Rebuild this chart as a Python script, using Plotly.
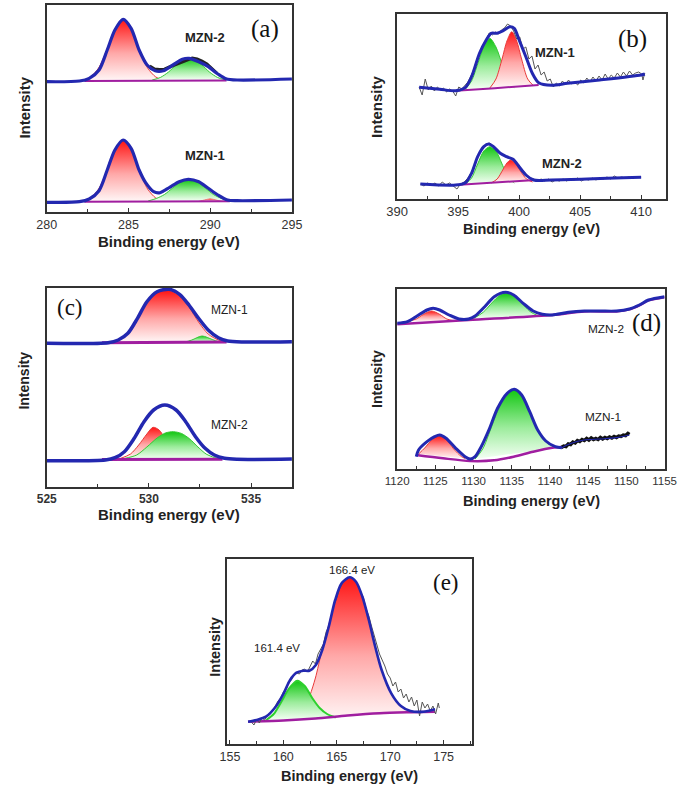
import plotly.graph_objects as go

W, H = 692, 790

# ---------------- Panel (a): C 1s ----------------
a_range_x = [280, 295]
a_range_y = [0, 207]
# MZN-2 (upper)
a2_env_E = [280, 282.0, 282.6, 283.2, 283.7, 284.17, 284.67, 285.16, 285.65, 286.14, 286.63, 287.13, 287.72, 288.3, 288.7, 289.3, 289.88, 290.47, 290.96, 291.65, 295]
a2_env_I = [130.3, 131, 133.7, 142, 162, 182, 192.7, 183.7, 162, 147, 141.3, 141.3, 147, 152.7, 153.7, 150.3, 145.3, 138, 133.3, 132, 133]
a2_base_E = [282.3, 291.0]
a2_base_I = [131, 131.5]
a2_c1_E = [282.17, 282.67, 283.17, 283.67, 284.17, 284.67, 285.17, 285.67, 286.17, 286.67, 287.17]
a2_c1_I = [131.5, 135, 144, 162, 183, 192.5, 183, 162, 144, 135, 131.5]
a2_c2_E = [286.45, 286.95, 287.45, 287.95, 288.7, 289.45, 289.95, 290.45, 290.95]
a2_c2_I = [132, 134.5, 140, 147.5, 153.7, 147.5, 140, 134.5, 132]
a2_raw_E = [286.3, 286.6, 286.9, 287.2, 287.5, 288.9, 289.2, 289.5, 289.8, 290.1, 290.4]
a2_raw_I = [146, 143, 142.5, 142.8, 145, 154, 153, 151, 148, 143, 139]
# MZN-1 (lower)
a1_env_E = [280, 282.0, 282.6, 283.2, 283.7, 284.17, 284.67, 285.16, 285.65, 286.05, 286.54, 286.93, 287.52, 288.1, 288.66, 289.3, 289.88, 290.47, 291.06, 291.65, 295]
a1_env_I = [9.7, 10.3, 13, 21.3, 42, 62, 72, 63.7, 42, 29.3, 20.3, 19.3, 24.7, 30.3, 32.7, 30.3, 23.7, 17, 12, 11.3, 12]
a1_base_E = [282.3, 291.2]
a1_base_I = [10.2, 10.8]
a1_c1_E = [282.17, 282.67, 283.17, 283.67, 284.17, 284.67, 285.17, 285.67, 286.17, 286.67, 287.17]
a1_c1_I = [10.8, 14, 23, 41, 62, 71.5, 62, 41, 23, 14, 10.8]
a1_c2_E = [286.2, 286.7, 287.2, 287.7, 288.2, 288.7, 289.2, 289.7, 290.2, 290.7, 291.2]
a1_c2_I = [11, 13.5, 17.5, 24, 30, 32.5, 30, 24, 17.5, 13.5, 11]
a1_c3_E = [289.3, 289.65, 290.0, 290.35, 290.7]
a1_c3_I = [10.6, 12, 13.2, 12, 10.6]

# ---------------- Panel (b): N 1s ----------------
b_range_x = [390, 412]
b_range_y = [0, 185]
b1_env_E = [391.8, 393.5, 394.8, 395.6, 396.1, 396.75, 397.3, 397.7, 398.2, 398.7, 399.24, 399.6, 400.0, 400.55, 401.08, 401.6, 402.65, 403.96, 406.6, 410.0, 410.3]
b1_env_I = [111.7, 109.7, 108.3, 111.7, 122.3, 145.7, 159, 165.7, 165.7, 168.3, 172.3, 170.7, 159, 142.3, 125.7, 116.3, 113.7, 115.7, 119, 124, 125]
b1_base_E = [394.8, 398.0, 401.6]
b1_base_I = [108.3, 110.8, 114]
b1_cg_E = [395.6, 396.1, 396.6, 397.1, 397.6, 398.1, 398.6, 399.1, 399.6]
b1_cg_I = [110, 118, 135, 152, 160.7, 152, 135, 118, 111.5]
b1_cr_E = [397.6, 398.1, 398.6, 399.0, 399.4, 399.8, 400.2, 400.7, 401.2]
b1_cr_I = [111, 120, 140, 158, 167.3, 158, 140, 120, 113]
b1_raw_E = [391.8, 392.05, 392.3, 392.55, 392.8, 393.05, 393.3, 393.55, 393.8, 394.05, 394.3, 394.55, 394.8, 395.05, 395.3, 395.55, 395.8, 396.05, 396.3, 396.55, 396.8, 397.05, 397.3, 397.55, 397.8, 398.05, 398.3, 398.55, 398.8, 399.05, 399.3, 399.55, 399.8, 400.05, 400.3, 400.55, 400.8, 401.05, 401.3, 401.55, 401.8, 402.05, 402.3, 402.55, 402.8, 403.05, 403.3, 403.55, 403.8, 404.05, 404.3, 404.55, 404.8, 405.05, 405.3, 405.55, 405.8, 406.05, 406.3, 406.55, 406.8, 407.05, 407.3, 407.55, 407.8, 408.05, 408.3, 408.55, 408.8, 409.05, 409.3, 409.55, 409.8, 410.05, 410.15, 410.3]
b1_raw_I = [112, 104, 120, 109, 113, 108, 112, 109, 111, 107, 110, 108, 103, 112, 110, 113, 117, 123, 130, 140, 148, 154, 160, 166, 164, 167, 165, 169, 171, 175, 173, 168, 160, 162, 150, 152, 140, 143, 130, 134, 124, 127, 118, 120, 112, 116, 113, 118, 114, 119, 115, 117, 114, 119, 116, 121, 117, 122, 118, 123, 119, 125, 120, 124, 121, 126, 122, 127, 123, 128, 124, 126, 127, 125, 119, 126]
b2_env_E = [391.9, 394.8, 395.6, 396.1, 396.6, 397.1, 397.5, 397.9, 398.45, 398.97, 399.5, 400.0, 400.55, 401.2, 402.65, 410.0]
b2_env_I = [15, 14, 16.3, 25.7, 42.3, 52.3, 55, 52.3, 45.7, 42.3, 39.7, 32.3, 24, 19, 19, 21.7]
b2_base_E = [394.8, 398.0, 401.3]
b2_base_I = [14, 16.5, 19]
b2_cg_E = [395.6, 396.1, 396.6, 397.1, 397.6, 398.1, 398.6, 399.1, 399.6]
b2_cg_I = [15, 21, 35, 48, 52.3, 48, 35, 21, 16]
b2_cr_E = [397.7, 398.2, 398.7, 399.0, 399.3, 399.7, 400.1, 400.6, 401.1]
b2_cr_I = [16, 20, 30, 36, 39, 35.5, 28, 20, 17]
b2_raw_E = [391.9, 392.2, 392.5, 392.8, 393.1, 393.4, 393.7, 394.0, 394.3, 394.6, 394.9, 395.2, 395.5, 395.8, 396.1, 396.4, 396.7, 397.0, 397.3, 397.6, 397.9, 398.2, 398.5, 398.8, 399.1, 399.4, 399.7, 400.0, 400.3, 400.6, 400.9, 401.2, 401.5, 401.8, 402.1, 402.4, 402.7, 403.0, 403.3, 403.6, 403.9, 404.2, 404.5, 404.8, 405.1, 405.4, 405.7, 406.0, 406.3, 406.6, 406.9, 407.2, 407.5, 407.8, 408.1, 408.4, 408.7, 409.0, 409.3, 409.6, 410.0]
b2_raw_I = [15, 13, 16, 14, 16, 13, 17, 14, 16, 13, 10, 15, 17, 21, 27, 35, 45, 51, 55, 56, 52, 49, 45, 43, 41, 40, 36, 33, 28, 24, 21, 20, 18, 20, 18, 20, 17, 19, 18, 20, 18, 20, 19, 21, 18, 20, 19, 21, 19, 21, 20, 22, 20, 23, 21, 22, 21, 22, 21, 22, 22]

# ---------------- Panel (c): O 1s ----------------
c_range_x = [525, 537]
c_range_y = [0, 199]
c1_env_E = [525, 528.0, 528.5, 528.97, 529.44, 529.9, 530.4, 531.0, 531.5, 531.96, 532.43, 532.9, 533.4, 533.85, 534.6, 537]
c1_env_I = [143.7, 144.3, 147, 153.7, 168.7, 185.3, 195.3, 197.7, 192.7, 182, 168.7, 157, 149.3, 146, 145, 145.3]
c1_base_E = [527.7, 533.8]
c1_base_I = [144.3, 145]
c1_cr_E = [528.3, 528.97, 529.44, 529.9, 530.4, 531.0, 531.5, 531.96, 532.43, 532.9, 533.4, 533.8]
c1_cr_I = [145, 153, 168, 184.5, 194.5, 196.5, 191, 180, 165, 153, 147, 145]
c1_cg_E = [531.7, 532.1, 532.6, 533.1, 533.5]
c1_cg_I = [144.5, 147, 151, 147.5, 144.5]
c2_env_E = [525, 527.87, 528.34, 528.8, 529.28, 529.76, 530.23, 530.78, 531.33, 531.8, 532.28, 532.75, 533.2, 533.7, 534.3, 537]
c2_env_I = [26.3, 27, 29.3, 35.3, 48.7, 65.3, 77, 82, 77, 65.3, 50.3, 38.7, 32, 28.7, 27.7, 28]
c2_base_E = [527.7, 533.6]
c2_base_I = [27.5, 27.7]
c2_cr_E = [528.6, 529.1, 529.5, 529.9, 530.2, 530.5, 530.8, 531.1, 531.5, 531.9]
c2_cr_I = [28.5, 33, 42, 53, 59.7, 57, 48, 38, 30, 28]
c2_cg_E = [528.8, 529.4, 529.9, 530.4, 530.8, 531.2, 531.6, 532.0, 532.4, 532.8, 533.2, 533.5]
c2_cg_I = [28.5, 32, 40, 49, 54, 55.3, 53.5, 48, 40, 33, 29.5, 28]

# ---------------- Panel (d) ----------------
d_range_x = [1120, 1155]
d_range_y = [0, 180]
d2_env_E = [1120, 1121.35, 1122.6, 1123.9, 1124.7, 1125.56, 1126.8, 1128.1, 1129.35, 1130.2, 1131.46, 1132.7, 1134.2, 1135.25, 1136.5, 1137.8, 1139.0, 1140.3, 1142.4, 1144.5, 1146.6, 1148.7, 1150.4, 1151.7, 1152.9, 1155]
d2_env_I = [145.7, 147.3, 153, 159, 160.7, 159, 154, 150, 150, 153, 162.3, 172.3, 176.7, 174, 165.7, 158, 154.7, 154, 156.7, 158, 158, 158, 160, 164, 169, 172.3]
d2_base_E = [1120, 1129.35, 1140.3, 1144.5, 1148.7, 1150.4, 1151.7, 1152.9, 1155]
d2_base_I = [144.7, 149, 154, 157.6, 157.6, 159.6, 163.6, 168.6, 171.8]
d2_cr_E = [1121.3, 1122.5, 1123.4, 1124.5, 1125.6, 1126.5, 1127.6]
d2_cr_I = [147.5, 150, 154.5, 158, 154.5, 150, 148]
d2_cg_E = [1130, 1131.3, 1132.5, 1133.4, 1134.3, 1135.3, 1136.3, 1137.4, 1138.6]
d2_cg_I = [150.5, 157, 167, 173.5, 175.7, 173, 166, 157.5, 152.5]
d1_env_E = [1122.5, 1122.8, 1123.9, 1124.9, 1125.56, 1126.4, 1127.67, 1128.9, 1129.56, 1130.2, 1131.0, 1132.1, 1133.14, 1134.4, 1135.33, 1136.3, 1137.35, 1138.4, 1139.46, 1140.7, 1141.57, 1142.8, 1144.5, 1146.6, 1148.7, 1150.4]
d1_env_I = [12.3, 19, 27.3, 32.3, 34, 30.7, 20.7, 12.3, 10, 12.3, 22.3, 40.7, 60.7, 75.7, 79.7, 74, 57.3, 39, 28, 22.3, 21.3, 25.7, 29, 30, 31.3, 34]
d1_base_E = [1122.5, 1126, 1129.56, 1132.7, 1135.25, 1137.8, 1140.3, 1141.6]
d1_base_I = [14, 10.7, 8, 8.7, 12.3, 17.3, 21.3, 22]
d1_cr_E = [1122.8, 1123.6, 1124.6, 1125.6, 1126.5, 1127.4, 1128.4, 1128.9]
d1_cr_I = [15, 21, 29.5, 33.3, 29, 20, 12.5, 10.5]
d1_cg_E = [1130.2, 1131.2, 1132.2, 1133.2, 1134.3, 1135.3, 1136.3, 1137.4, 1138.4, 1139.5, 1140.5, 1141.2]
d1_cg_I = [10, 20, 39, 59, 75, 79.5, 74, 57, 39, 27, 22.5, 21.8]
d1_raw_E = [1141.5, 1141.8, 1142.1, 1142.4, 1142.7, 1143.0, 1143.3, 1143.6, 1143.9, 1144.2, 1144.5, 1144.8, 1145.1, 1145.4, 1145.7, 1146.0, 1146.3, 1146.6, 1146.9, 1147.2, 1147.5, 1147.8, 1148.1, 1148.4, 1148.7, 1149.0, 1149.3, 1149.6, 1149.9, 1150.2, 1150.4]
d1_raw_I = [21.5, 23, 22.5, 25, 24.5, 27, 26, 28.5, 27.5, 29.5, 28.5, 30.5, 29, 31, 29.5, 30.5, 29.5, 31.5, 30, 31.5, 30.5, 32, 31, 32.5, 31.5, 33, 32.5, 34, 33.5, 35.5, 34.5]

# ---------------- Panel (e): S 2p ----------------
e_range_x = [154.75, 177.7]
e_range_y = [0, 185]
e_env_E = [156.7, 157.47, 158.37, 159.28, 160.03, 160.63, 161.23, 161.84, 162.44, 163.04, 163.64, 164.25, 164.85, 165.45, 166.2, 166.8, 167.4, 168.0, 168.6, 169.2, 170.1, 171.0, 171.9, 173.1, 174.2]
e_env_I = [22.3, 24, 27.3, 37.3, 50.7, 64, 71.3, 73.3, 73.3, 79, 94, 117.3, 144, 160.7, 166.7, 162.3, 147.3, 124, 97.3, 74, 50.7, 38, 33, 32.3, 34.7]
e_base_E = [156.7, 160, 163, 166, 169, 172, 174.2]
e_base_I = [22.3, 23.5, 25.5, 28.5, 30.8, 31.8, 32.3]
e_cr_E = [160.4, 161.0, 161.6, 162.1, 162.5, 163.0, 163.6, 164.2, 164.85, 165.45, 166.2, 166.8, 167.4, 168.0, 168.6, 169.2, 170.1, 171.0, 171.9, 172.8]
e_cr_I = [24, 26, 31, 39, 49, 66, 93, 117, 143, 160, 166.5, 162, 147, 124, 97, 74, 50.5, 38, 33, 31.8]
e_cg_E = [158.4, 159.1, 159.8, 160.5, 161.3, 162.0, 162.7, 163.4, 164.1, 164.9]
e_cg_I = [24, 30, 42, 55, 63.3, 58, 46, 36, 30, 26.5]
e_raw_E = [157.0, 157.25, 157.5, 157.75, 158.0, 158.25, 158.5, 158.75, 159.0, 159.25, 159.5, 159.75, 160.0, 160.25, 160.5, 160.75, 161.0, 161.25, 161.5, 161.75, 162.0, 162.25, 162.5, 162.75, 163.0, 163.25, 163.5, 163.75, 164.0, 164.25, 164.5, 164.75, 165.0, 165.25, 165.5, 165.75, 166.0, 166.25, 166.5, 166.75, 167.0, 167.25, 167.5, 167.75, 168.0, 168.25, 168.5, 168.75, 169.0, 169.25, 169.5, 169.75, 170.0, 170.25, 170.5, 170.75, 171.0, 171.25, 171.5, 171.75, 172.0, 172.25, 172.5, 172.75, 173.0, 173.25, 173.5, 173.75, 174.0, 174.25, 174.5, 174.6]
e_raw_I = [22, 19, 25, 21, 26, 24, 29, 31, 33, 38, 43, 46, 52, 55, 61, 64, 69, 71, 70, 74, 75, 72, 78, 83, 80, 90, 95, 100, 112, 118, 128, 140, 146, 155, 160, 164, 165, 167, 166, 163, 158, 152, 146, 135, 128, 118, 108, 100, 90, 84, 78, 70, 66, 58, 62, 52, 55, 46, 50, 42, 47, 38, 44, 28, 42, 36, 40, 33, 38, 30, 41, 36]

# ---------------- styling ----------------
BLUE = "#2328b0"
PURPLE = "#a01ea0"
RED_SCALE = [[0, "#fff6f6"], [0.45, "#ffa8a8"], [1, "#ff1414"]]
GREEN_SCALE = [[0, "#f4fff4"], [0.45, "#9cec9c"], [1, "#12c612"]]

fig = go.Figure()


def ax(i):
    return ("x" if i == 1 else f"x{i}"), ("y" if i == 1 else f"y{i}")


def line(i, E, I, color, width):
    xa, ya = ax(i)
    fig.add_trace(go.Scatter(x=E, y=I, xaxis=xa, yaxis=ya, mode="lines",
                             line=dict(color=color, width=width, shape="spline", smoothing=0.8),
                             hoverinfo="skip"))


def raw(i, E, I, color, width):
    xa, ya = ax(i)
    fig.add_trace(go.Scatter(x=E, y=I, xaxis=xa, yaxis=ya, mode="lines",
                             line=dict(color=color, width=width), hoverinfo="skip"))


def comp(i, E, I, scale, edge, width=1):
    xa, ya = ax(i)
    fig.add_trace(go.Scatter(x=E, y=I, xaxis=xa, yaxis=ya, mode="lines",
                             line=dict(color=edge, width=width, shape="spline", smoothing=0.8),
                             fill="toself",
                             fillgradient=dict(type="vertical", colorscale=scale),
                             hoverinfo="skip"))


# panel a (1)
comp(1, a2_c1_E, a2_c1_I, RED_SCALE, "#e83a3a")
comp(1, a2_c2_E, a2_c2_I, GREEN_SCALE, "#35c835")
comp(1, a1_c1_E, a1_c1_I, RED_SCALE, "#e83a3a")
comp(1, a1_c2_E, a1_c2_I, GREEN_SCALE, "#35c835")
comp(1, a1_c3_E, a1_c3_I, RED_SCALE, "#f08080")
line(1, a2_base_E, a2_base_I, PURPLE, 2)
line(1, a1_base_E, a1_base_I, PURPLE, 2)
raw(1, a2_raw_E, a2_raw_I, "#222222", 3)
line(1, a2_env_E, a2_env_I, BLUE, 3.2)
line(1, a1_env_E, a1_env_I, BLUE, 3.2)

# panel b (2)
comp(2, b1_cg_E, b1_cg_I, GREEN_SCALE, "#35c835")
comp(2, b1_cr_E, b1_cr_I, RED_SCALE, "#e83a3a")
comp(2, b2_cg_E, b2_cg_I, GREEN_SCALE, "#35c835")
comp(2, b2_cr_E, b2_cr_I, RED_SCALE, "#e83a3a")
line(2, b1_base_E, b1_base_I, PURPLE, 2)
line(2, b2_base_E, b2_base_I, PURPLE, 2)
raw(2, b1_raw_E, b1_raw_I, "#555555", 1)
raw(2, b2_raw_E, b2_raw_I, "#555555", 1)
line(2, b1_env_E, b1_env_I, BLUE, 3)
line(2, b2_env_E, b2_env_I, BLUE, 3)

# panel c (3)
comp(3, c1_cr_E, c1_cr_I, RED_SCALE, "#e83a3a")
comp(3, c1_cg_E, c1_cg_I, GREEN_SCALE, "#35c835")
comp(3, c2_cr_E, c2_cr_I, RED_SCALE, "#e83a3a")
comp(3, c2_cg_E, c2_cg_I, GREEN_SCALE, "#35c835")
line(3, c1_base_E, c1_base_I, PURPLE, 3)
line(3, c2_base_E, c2_base_I, PURPLE, 3)
line(3, c1_env_E, c1_env_I, BLUE, 3.5)
line(3, c2_env_E, c2_env_I, BLUE, 3.5)

# panel d (4)
comp(4, d2_cr_E, d2_cr_I, RED_SCALE, "#e83a3a")
comp(4, d2_cg_E, d2_cg_I, GREEN_SCALE, "#35c835")
comp(4, d1_cr_E, d1_cr_I, RED_SCALE, "#e83a3a")
comp(4, d1_cg_E, d1_cg_I, GREEN_SCALE, "#35c835")
line(4, d2_base_E, d2_base_I, PURPLE, 2.5)
line(4, d1_base_E, d1_base_I, PURPLE, 2.5)
raw(4, d1_raw_E, d1_raw_I, "#111111", 3.5)
line(4, d2_env_E, d2_env_I, BLUE, 3)
line(4, d1_env_E[:21], d1_env_I[:21], BLUE, 3)
line(4, d1_env_E[20:], d1_env_I[20:], BLUE, 1.2)

# panel e (5)
comp(5, e_cr_E, e_cr_I, RED_SCALE, "#e83a3a")
comp(5, e_cg_E, e_cg_I, GREEN_SCALE, "#2ed02e", 2)
line(5, e_base_E, e_base_I, PURPLE, 2.5)
raw(5, e_raw_E, e_raw_I, "#555555", 1)
line(5, e_env_E, e_env_I, BLUE, 2.6)


# ---------------- axes ----------------
def px_x(p):
    return p / W


def px_y(p):
    return 1 - p / H


boxes = {
    1: (36, 290, 5, 212, a_range_x, a_range_y, 12.5, "normal"),
    2: (399, 677, 14, 199, b_range_x, b_range_y, 13, "normal"),
    3: (36, 290, 288, 487, c_range_x, c_range_y, 12, "bold"),
    4: (399, 676, 289, 469, d_range_x, d_range_y, 11.5, "normal"),
    5: (223, 477, 559, 744, e_range_x, e_range_y, 12.5, "normal"),
}
layout = dict(width=W, height=H, margin=dict(l=0, r=0, t=0, b=0),
              paper_bgcolor="white", plot_bgcolor="white", showlegend=False)
for i, (l, r, t, b, rx, ry, fs, fw) in boxes.items():
    xk = "xaxis" if i == 1 else f"xaxis{i}"
    yk = "yaxis" if i == 1 else f"yaxis{i}"
    xa, ya = ax(i)
    layout[xk] = dict(domain=[px_x(l), px_x(r)], range=rx, anchor=ya,
                      showline=True, mirror=True, linecolor="#333333", linewidth=1.5,
                      ticks="inside", ticklen=4, tickwidth=1.2, tickcolor="#333333",
                      tick0=0, dtick=5, showgrid=False, zeroline=False,
                      tickfont=dict(family="Liberation Sans, Arial", size=fs, color="#333333", weight=fw),
                      minor=dict(dtick=2.5, ticks="inside", ticklen=3, tickcolor="#333333"))
    layout[yk] = dict(domain=[px_y(b), px_y(t)], range=ry, anchor=xa,
                      showline=True, mirror=True, linecolor="#333333", linewidth=1.5,
                      ticks="", showticklabels=False, showgrid=False, zeroline=False)
fig.update_layout(**layout)

# ---------------- text ----------------
ann = []


def text(x, y, s, size, family="Liberation Sans, Arial", bold=False, angle=0, color="#222222"):
    ann.append(dict(x=px_x(x), y=px_y(y), xref="paper", yref="paper", showarrow=False,
                    text=f"<b>{s}</b>" if bold else s, textangle=angle,
                    font=dict(family=family, size=size, color=color),
                    xanchor="center", yanchor="middle"))


# axis titles
text(163, 241, "Binding energy (eV)", 15, bold=True)
text(538, 229, "Binding energy (eV)", 14.5, bold=True)
text(163, 514, "Binding energy (eV)", 15, bold=True)
text(538, 501, "Binding energy (eV)", 14.5, bold=True)
text(350, 776, "Binding energy (eV)", 14.5, bold=True)
text(12, 108, "Intensity", 15, bold=True, angle=-90)
text(377, 107, "Intensity", 15, bold=True, angle=-90)
text(12, 381, "Intensity", 14, bold=True, angle=-90)
text(378, 379, "Intensity", 14, bold=True, angle=-90)
text(210, 647, "Intensity", 14.5, bold=True, angle=-90)

# sample labels
text(200, 37, "MZN-2", 13, bold=True)
text(200, 156, "MZN-1", 13, bold=True)
text(562, 52, "MZN-1", 13, bold=True)
text(570, 163, "MZN-2", 13, bold=True)
text(225, 310, "MZN-1", 12)
text(225, 425, "MZN-2", 12)
text(615, 329, "MZN-2", 11.8)
text(612, 417, "MZN-1", 11.8)
text(352, 570, "166.4 eV", 11.5)
text(275, 648, "161.4 eV", 11.5)

# panel letters
SERIF = "Liberation Serif, Times New Roman"
text(262, 29, "(a)", 25, family=SERIF, color="#111111")
text(643, 39, "(b)", 25, family=SERIF, color="#111111")
text(60, 307, "(c)", 23, family=SERIF, color="#111111")
text(657, 323, "(d)", 25, family=SERIF, color="#111111")
text(450, 582, "(e)", 23, family=SERIF, color="#111111")

fig.update_layout(annotations=ann)
fig.write_html("out.html")
